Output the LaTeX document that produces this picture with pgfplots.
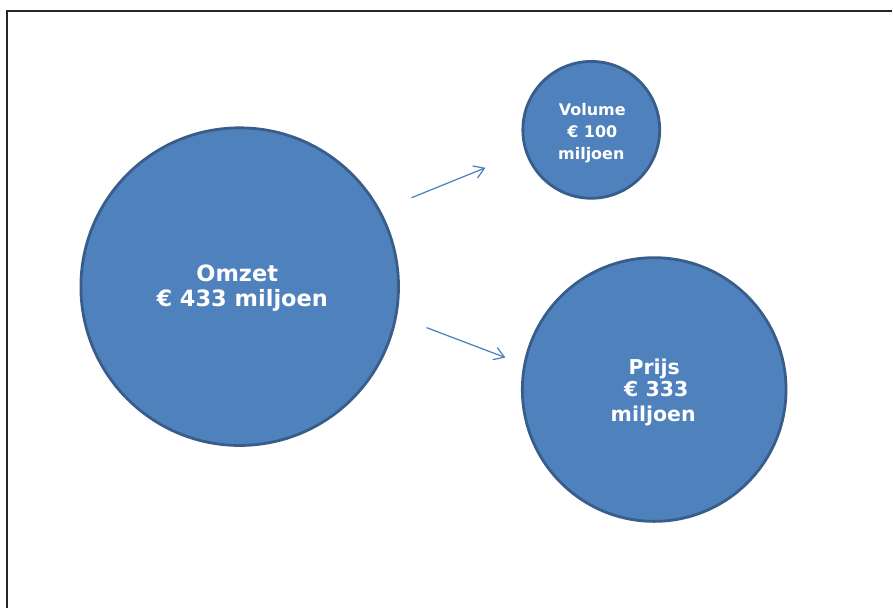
\documentclass[border=0pt]{standalone}
\usepackage{fontspec}
\setmainfont{DejaVu Sans}
\usepackage{pgfplots}
\pgfplotsset{compat=1.18}
\usetikzlibrary{arrows.meta}
\definecolor{bubblefill}{HTML}{4F81BD}
\definecolor{bubbleedge}{HTML}{385D8A}
\definecolor{arrowblue}{HTML}{4A7EBB}
\begin{document}
\begin{tikzpicture}
\begin{axis}[
  x=1pt, y=1pt,
  xmin=0, xmax=893, ymin=0, ymax=609,
  y dir=reverse,
  hide axis,
  clip=false,
]
% canvas
\addplot[draw=none, fill=white] coordinates {(0,0) (893,0) (893,609) (0,609)} -- cycle;
% frame (left and top edges visible)
\addplot[draw=black!85, line width=2.2pt] coordinates {(7,609) (7,11) (893,11)};
% bubbles
\addplot[only marks, mark=*, mark size=159,
  mark options={fill=bubblefill, draw=bubbleedge, line width=2.8pt}]
  coordinates {(240,287)};
\addplot[only marks, mark=*, mark size=68.5,
  mark options={fill=bubblefill, draw=bubbleedge, line width=2.8pt}]
  coordinates {(592,130)};
\addplot[only marks, mark=*, mark size=132,
  mark options={fill=bubblefill, draw=bubbleedge, line width=2.8pt}]
  coordinates {(655,390)};
% arrows
\addplot[arrowblue, line width=1.2pt, -{Straight Barb[length=10pt, width=13pt]}]
  coordinates {(412,198) (486,168)};
\addplot[arrowblue, line width=1.2pt, -{Straight Barb[length=10pt, width=13pt]}]
  coordinates {(427,328) (506,358)};
% label anchors
\coordinate (om1) at (axis cs:237.5,282);
\coordinate (om2) at (axis cs:242.5,307);
\coordinate (vo1) at (axis cs:593,116);
\coordinate (vo2) at (axis cs:593,138);
\coordinate (vo3) at (axis cs:592,160);
\coordinate (pr1) at (axis cs:655,375);
\coordinate (pr2) at (axis cs:657,397);
\coordinate (pr3) at (axis cs:654,422);
\end{axis}
\begin{scope}[every node/.style={anchor=base, text=white, inner sep=0pt}]
\node[font=\bfseries\fontsize{22.5}{25}\selectfont] at (om1) {Omzet};
\node[font=\bfseries\fontsize{22.5}{25}\selectfont] at (om2) {€ 433 miljoen};
\node[font=\bfseries\fontsize{16}{22}\selectfont] at (vo1) {Volume};
\node[font=\bfseries\fontsize{16}{22}\selectfont] at (vo2) {€ 100};
\node[font=\bfseries\fontsize{16}{22}\selectfont] at (vo3) {miljoen};
\node[font=\bfseries\fontsize{20.5}{24}\selectfont] at (pr1) {Prijs};
\node[font=\bfseries\fontsize{20.5}{24}\selectfont] at (pr2) {€ 333};
\node[font=\bfseries\fontsize{20.5}{24}\selectfont] at (pr3) {miljoen};
\end{scope}
\end{tikzpicture}
\end{document}
